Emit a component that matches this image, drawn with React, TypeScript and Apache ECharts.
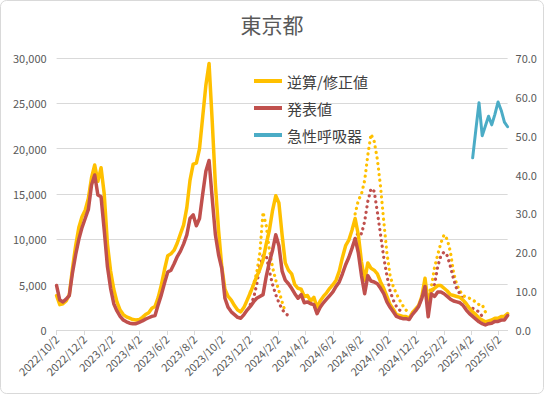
import React, { useEffect, useRef } from "react";
import * as echarts from "echarts";

// Weekly series, first week 2022/10/2
const startDate = [2022, 10, 2];
const seriesNames = ["逆算/修正値", "発表値", "急性呼吸器"];
const tickLabels = [
  "2022/10/2", "2022/12/2", "2023/2/2", "2023/4/2", "2023/6/2", "2023/8/2",
  "2023/10/2", "2023/12/2", "2024/2/2", "2024/4/2", "2024/6/2", "2024/8/2",
  "2024/10/2", "2024/12/2", "2025/2/2", "2025/4/2", "2025/6/2",
];
const leftTicks = [0, 5000, 10000, 15000, 20000, 25000, 30000];
const rightTicks = [0, 10, 20, 30, 40, 50, 60, 70];

const revised = [
  3800, 2800, 2900, 3200, 3900, 6800, 9300, 11300, 12500, 13200,
  14500, 16800, 18200, 16400, 17900, 15000, 9500, 6500, 4500, 3100,
  2200, 1700, 1450, 1300, 1150, 1100, 1150, 1400, 1700, 1900,
  2400, 2600, 3600, 5000, 6700, 8200, 8400, 8800, 9600, 10600,
  11600, 13500, 16500, 18300, 18400, 20000, 23500, 27000, 29400, 23000,
  16000, 11000, 7000, 4500, 3700, 3300, 2700, 2200, 2000, 2500,
  3300, 4100, 5000, 5900, 6700, 7700, 9500, 11000, 13200, 14800,
  14000, 10500, 7400, 6600, 6200, 5000, 4600, 4500, 3700, 3800,
  3200, 3600, 2500, 3200, 3700, 4100, 4600, 5000, 5500, 6500,
  8000, 9300, 9900, 11000, 12300, 10500, 7500, 5500, 7400, 6800,
  6600, 6200, 5300, 4600, 3700, 2800, 2300, 1700, 1600, 1500,
  1500, 1300, 1900, 2300, 2700, 3700, 5700, 2900, 4400, 4600,
  4900, 4900, 4600, 4300, 3900, 3800, 3700, 3600, 3300, 2900,
  2400, 2000, 1700, 1300, 1100, 900, 1000, 1100, 1300, 1300,
  1500, 1500, 1800,
];

const announced = [
  4900, 3300, 3100, 3400, 3800, 6300, 8300, 10000, 11300, 12300,
  13300, 16000, 17100, 14900, 14700, 11000, 7000, 4600, 2900, 2100,
  1500, 1100, 900, 750, 700, 700, 850, 1000, 1200, 1350,
  1500, 1600, 2800, 3900, 5200, 6400, 6600, 7300, 8100, 8700,
  9500, 10500, 12300, 12700, 11500, 12300, 15000, 17500, 18700, 14500,
  10500, 8300, 6800, 3500, 2500, 2000, 1700, 1400, 1300, 1700,
  2200, 2600, 3100, 3500, 3700, 3900, 5900, 7500, 8800, 10500,
  9300, 6500, 5500, 5100, 4600, 4000, 3500, 3900, 3000, 3100,
  2900, 2800, 1800, 2500, 3000, 3400, 3800, 4200, 4800, 5300,
  6200, 7200, 8000, 9000, 10100, 8500, 6000, 4000, 6000, 5400,
  5300, 5100, 4600, 4000, 3100, 2500, 2000, 1500, 1350, 1250,
  1250, 1150, 1700, 2100, 2600, 3500, 4800, 1450, 4000, 3700,
  4200, 4200, 4000, 3700, 3400, 3200, 3100, 3000, 2700, 2200,
  1800, 1500, 1200, 900, 700, 550, 700, 750, 950, 950,
  1100, 1100, 1600,
];

// Acute respiratory infections (right axis), starts at week index 131
const respStart = 131;
const respiratory = [44.3, 51.5, 58.5, 50.0, 52.5, 55.0, 52.8, 55.5, 58.7, 56.5, 53.5, 52.3];

// Dotted series: start week index + values
const dotRevised1Start = 61;
const dotRevised1 = [4200, 5000, 6300, 8500, 13000, 11500, 8800, 6900, 5500, 4300, 3100, 2000];
const dotAnnounced1Start = 61;
const dotAnnounced1 = [2800, 3500, 5000, 7000, 8200, 8200, 6500, 5000, 3900, 3000, 2300, 1800, 1600];
const dotRevised2Start = 94;
const dotRevised2 = [12800, 14300, 15000, 16500, 19300, 21600, 20800, 18800, 15800, 12000, 8500, 6000, 4800, 4000, 3300, 2700, 2200, 1900];
const dotAnnounced2Start = 94;
const dotAnnounced2 = [10000, 10800, 10600, 12000, 14200, 15600, 15300, 13000, 10500, 8000, 6000, 4300, 3300, 2600, 2200, 1900];
const dotRevised3Start = 117;
const dotRevised3 = [3800, 4800, 6900, 8300, 9600, 10500, 10000, 8600, 6300, 5000, 4300, 3800, 3600, 3500, 3300, 3100, 2800, 2800, 2000];
const dotAnnounced3Start = 118;
const dotAnnounced3 = [3800, 5000, 7000, 8200, 8600, 8200, 7000, 5600, 4500, 4000, 3300, 2800, 2400, 2400, 2200, 2000, 1500];

const ORANGE = "#FFC000";
const RED = "#C0504D";
const BLUE = "#4BACC6";
const FONT = "'Noto Sans CJK JP', 'Noto Sans', sans-serif";

function weekTime(i: number): number {
  return Date.UTC(startDate[0], startDate[1] - 1, startDate[2] + 7 * i);
}
function parseLabel(s: string): number {
  const [y, m, d] = s.split("/").map(Number);
  return Date.UTC(y, m - 1, d);
}
function pairs(start: number, vals: number[]) {
  return vals.map((v, k) => [weekTime(start + k), v]);
}

export default function App() {
  const ref = useRef<HTMLDivElement>(null);
  useEffect(() => {
    if (!ref.current) return;
    const chart = echarts.init(ref.current, undefined, { renderer: "svg" });
    const tickTimes = tickLabels.map(parseLabel);
    const solid = (name: string, color: string, data: any[], yAxisIndex = 0, width = 3.5) => ({
      name, type: "line", data, yAxisIndex, symbol: "none", showSymbol: false,
      lineStyle: { color, width, join: "round", cap: "round" }, itemStyle: { color },
    });
    const dotted = (name: string, color: string, data: any[]) => ({
      name, type: "line", data, symbol: "none", showSymbol: false,
      lineStyle: { color, width: 3.2, type: [0.1, 5.5], cap: "round" }, itemStyle: { color },
    });
    chart.setOption({
      animation: false,
      backgroundColor: "#ffffff",
      textStyle: { fontFamily: FONT },
      title: {
        text: "東京都", left: "center", top: 8,
        textStyle: { fontSize: 21, fontWeight: "normal", color: "#595959", fontFamily: FONT },
      },
      legend: {
        data: seriesNames, orient: "vertical", left: 249, top: 68,
        itemWidth: 28, itemHeight: 4, itemGap: 11, icon: "rect",
        textStyle: { fontSize: 15, color: "#404040", fontFamily: FONT, lineHeight: 16 },
      },
      grid: { left: 56.6, right: 36.4, top: 58, bottom: 64 },
      xAxis: {
        type: "value",
        min: weekTime(0),
        max: weekTime(revised.length - 1),
        axisLine: { show: true, onZero: false, lineStyle: { color: "#d9d9d9", width: 1 } },
        axisTick: { show: true, customValues: tickTimes, length: 5, lineStyle: { color: "#d9d9d9" } },
        splitLine: { show: false },
        axisLabel: {
          customValues: tickTimes, rotate: 45, margin: 7, fontSize: 11, color: "#595959", fontFamily: FONT,
          formatter: (v: number) => {
            const d = new Date(v);
            return `${d.getUTCFullYear()}/${d.getUTCMonth() + 1}/${d.getUTCDate()}`;
          },
        },
      },
      yAxis: [
        {
          type: "value", min: leftTicks[0], max: leftTicks[leftTicks.length - 1], interval: 5000,
          axisLine: { show: false }, axisTick: { show: false },
          splitLine: { lineStyle: { color: "#d9d9d9", width: 1 } },
          axisLabel: { margin: 10, fontSize: 11, color: "#595959", fontFamily: FONT,
            formatter: (v: number) => v.toLocaleString("en-US") },
        },
        {
          type: "value", min: rightTicks[0], max: rightTicks[rightTicks.length - 1], interval: 10,
          axisLine: { show: false }, axisTick: { show: false }, splitLine: { show: false },
          axisLabel: { margin: 8, fontSize: 11, color: "#595959", fontFamily: FONT,
            formatter: (v: number) => v.toFixed(1) },
        },
      ],
      graphic: [
        { type: "rect", shape: { x: 0.5, y: 0.5, width: 543, height: 393, r: 6 },
          style: { fill: "none", stroke: "#d9d9d9", lineWidth: 1 }, silent: true },
      ],
      series: [
        dotted("点線1", ORANGE, pairs(dotRevised1Start, dotRevised1)),
        dotted("点線2", RED, pairs(dotAnnounced1Start, dotAnnounced1)),
        dotted("点線3", ORANGE, pairs(dotRevised2Start, dotRevised2)),
        dotted("点線4", RED, pairs(dotAnnounced2Start, dotAnnounced2)),
        dotted("点線5", ORANGE, pairs(dotRevised3Start, dotRevised3)),
        dotted("点線6", RED, pairs(dotAnnounced3Start, dotAnnounced3)),
        solid(seriesNames[0], ORANGE, pairs(0, revised)),
        solid(seriesNames[1], RED, pairs(0, announced)),
        solid(seriesNames[2], BLUE, pairs(respStart, respiratory), 1, 3),
      ],
    });
    return () => chart.dispose();
  }, []);
  return (
    <div
      ref={ref}
      style={{ position: "absolute", left: 0, top: 0, width: 544, height: 394, background: "#fff" }}
    />
  );
}
